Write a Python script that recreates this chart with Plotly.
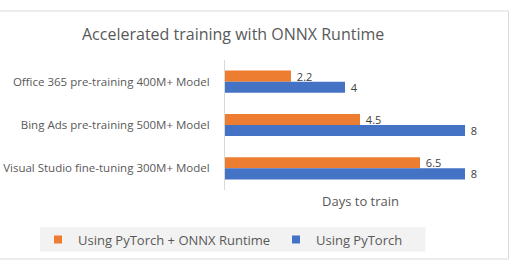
import plotly.graph_objects as go

categories = ["Office 365 pre-training 400M+ Model",
              "Bing Ads pre-training 500M+ Model",
              "Visual Studio fine-tuning 300M+ Model"]
series_names = ["Using PyTorch + ONNX Runtime", "Using PyTorch"]
ort_days = [2.2, 4.5, 6.5]
pytorch_days = [4, 8, 8]
colors = ["#ED7D31", "#4472C4"]

W, H = 520, 272
L, R, T, B = 225, 25, 60, 82
FONT = "Open Sans"

fig = go.Figure()
legend_ids = ["legend", "legend2"]
for name, vals, col, lg in zip(series_names, [ort_days, pytorch_days], colors, legend_ids):
    fig.add_trace(go.Bar(
        y=categories, x=vals, name=name, orientation="h",
        marker=dict(color=col, line=dict(width=0)),
        text=[f"\u00a0{v:g}" for v in vals], textposition="outside",
        textfont=dict(size=11, color="#404040", family=FONT),
        constraintext="none",
        cliponaxis=False, showlegend=False,
    ))
    fig.add_trace(go.Scatter(
        x=[None], y=[None], mode="markers", name=name, legend=lg,
        marker=dict(symbol="square", size=8, color=col),
    ))

pw = W - L - R
ph = H - T - B
def px_x(p):
    return (p - L) / pw
def px_y(p):
    return (H - B - p) / ph

legend_common = dict(orientation="h", xref="container", yref="container",
                     xanchor="left", yanchor="middle",
                     bgcolor="rgba(0,0,0,0)", borderwidth=0,
                     font=dict(size=13, color="#595959"), itemclick=False)

fig.update_layout(
    width=W, height=H,
    margin=dict(l=L, r=R, t=T, b=B, autoexpand=False),
    paper_bgcolor="white", plot_bgcolor="white",
    font=dict(family=FONT, color="#595959"),
    barmode="group", bargap=0.49, bargroupgap=0,
    showlegend=True,
    legend=dict(legend_common, x=38 / W, y=1 - 239.5 / H),
    legend2=dict(legend_common, x=276 / W, y=1 - 239.5 / H),
    xaxis=dict(range=[0, 9], showgrid=False, zeroline=False,
               showticklabels=False, showline=False, fixedrange=True,
               automargin=False),
    yaxis=dict(autorange="reversed", showgrid=False, zeroline=False,
               showline=True, linecolor="#d9d9d9", linewidth=1,
               ticks="outside", ticklen=12, tickcolor="rgba(0,0,0,0)",
               tickfont=dict(size=11.5, color="#595959"), automargin=False),
    shapes=[
        dict(type="rect", xref="paper", yref="paper",
             x0=px_x(-20), x1=px_x(508.5), y0=px_y(259), y1=px_y(11),
             line=dict(color="#d9d9d9", width=1), fillcolor="rgba(0,0,0,0)",
             layer="below"),
        dict(type="rect", xref="paper", yref="paper",
             x0=px_x(40), x1=px_x(425.5), y0=px_y(251.5), y1=px_y(227),
             line=dict(width=0), fillcolor="#f2f2f2", layer="below"),
    ],
    annotations=[
        dict(text="Accelerated training with ONNX Runtime", xref="paper", yref="paper",
             x=px_x(233), y=px_y(34), xanchor="center", yanchor="middle",
             showarrow=False, font=dict(size=16, color="#595959")),
        dict(text="Days to train", xref="paper", yref="paper",
             x=px_x(360), y=px_y(201), xanchor="center", yanchor="middle",
             showarrow=False, font=dict(size=13, color="#595959")),
    ],
)

fig.write_html("out.html")
